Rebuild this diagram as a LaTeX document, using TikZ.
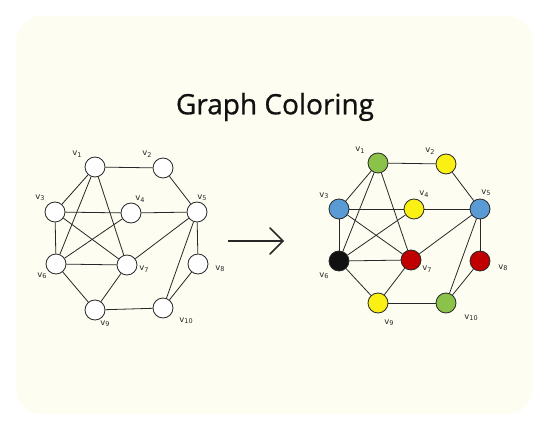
\documentclass[tikz,border=0pt]{standalone}
\usepackage{fontspec}
\usetikzlibrary{calc}
\setmainfont{Open Sans}
\newfontfamily\titlefont[FakeBold=0.8]{Open Sans}
\newfontfamily\labfont{DejaVu Sans}
\definecolor{card}{RGB}{253,253,241}
\definecolor{cgreen}{RGB}{139,195,74}
\definecolor{cyellow}{RGB}{250,240,20}
\definecolor{cblue}{RGB}{91,155,213}
\definecolor{cred}{RGB}{192,0,0}
\definecolor{cblack}{RGB}{17,17,17}
\definecolor{ink}{RGB}{40,40,40}
\tikzset{
  vert/.style={circle,draw=ink,line width=0.8pt,minimum size=20pt,inner sep=0pt,fill=white},
  lab/.style={font=\labfont\fontsize{8.5}{9}\selectfont,text=ink,inner sep=0pt},
  edge/.style={draw=ink,line width=0.8pt}
}
\newcommand{\vl}[1]{v\raisebox{-0.3ex}{\fontsize{6.5}{7}\selectfont #1}}
\begin{document}
\begin{tikzpicture}[x=1pt,y=-1pt]
\useasboundingbox (0,0) rectangle (549,430);
\fill[white] (0,0) rectangle (549,430);
\fill[card,rounded corners=26pt] (16,16) rectangle (533,414);
\node[font=\titlefont\fontsize{28}{32}\selectfont,text=cblack] (title) at (275,107) {Graph Coloring};
% left graph
\node[vert] (a1) at (95,167) {};
\node[vert] (a2) at (163,168) {};
\node[vert] (a3) at (55,212) {};
\node[vert] (a4) at (131,213) {};
\node[vert] (a5) at (197,212) {};
\node[vert] (a6) at (56,264) {};
\node[vert] (a7) at (127,265) {};
\node[vert] (a8) at (198,264) {};
\node[vert] (a9) at (95,310) {};
\node[vert] (a10) at (163,308) {};
\foreach \u/\v in {1/2,1/3,1/6,1/7,2/5,3/4,3/6,3/7,4/5,4/6,5/7,5/8,5/10,6/7,6/9,7/9,8/10,9/10}{
  \draw[edge] (a\u) -- (a\v);
}
\node[lab] (la1) at (77,154) {\vl{1}};
\node[lab] (la2) at (147,154) {\vl{2}};
\node[lab] (la3) at (40,198) {\vl{3}};
\node[lab] (la4) at (140,199) {\vl{4}};
\node[lab] (la5) at (202,198) {\vl{5}};
\node[lab] (la6) at (42,276) {\vl{6}};
\node[lab] (la7) at (144,269) {\vl{7}};
\node[lab] (la8) at (220,269) {\vl{8}};
\node[lab] (la9) at (105,324) {\vl{9}};
\node[lab] (la10) at (186,321) {\vl{10}};
% right graph
\node[vert,fill=cgreen] (b1) at (378,163) {};
\node[vert,fill=cyellow] (b2) at (446,164) {};
\node[vert,fill=cblue] (b3) at (339,209) {};
\node[vert,fill=cyellow] (b4) at (414,209) {};
\node[vert,fill=cblue] (b5) at (480,209) {};
\node[vert,fill=cblack] (b6) at (339,261) {};
\node[vert,fill=cred] (b7) at (411,260) {};
\node[vert,fill=cred] (b8) at (480,261) {};
\node[vert,fill=cyellow] (b9) at (378,303) {};
\node[vert,fill=cgreen] (b10) at (446,303) {};
\foreach \u/\v in {1/2,1/3,1/6,1/7,2/5,3/4,3/6,3/7,4/5,4/6,5/7,5/8,5/10,6/7,6/9,7/9,8/10,9/10}{
  \draw[edge] (b\u) -- (b\v);
}
\node[lab] (lb1) at (360,150) {\vl{1}};
\node[lab] (lb2) at (430,151) {\vl{2}};
\node[lab] (lb3) at (324,196) {\vl{3}};
\node[lab] (lb4) at (424,194) {\vl{4}};
\node[lab] (lb5) at (486,193) {\vl{5}};
\node[lab] (lb6) at (324,276) {\vl{6}};
\node[lab] (lb7) at (427,269) {\vl{7}};
\node[lab] (lb8) at (503,268) {\vl{8}};
\node[lab] (lb9) at (389,323) {\vl{9}};
\node[lab] (lb10) at (471,318) {\vl{10}};
% arrow
\coordinate (ar0) at (228,241);
\coordinate (ar1) at (283,241);
\draw[draw=ink,line width=1.6pt] (ar0) -- (ar1);
\draw[draw=ink,line width=1.6pt,line cap=round,line join=miter] ($(ar1)+(-13,-13)$) -- (ar1) -- ($(ar1)+(-13,13)$);
\end{tikzpicture}
\end{document}
